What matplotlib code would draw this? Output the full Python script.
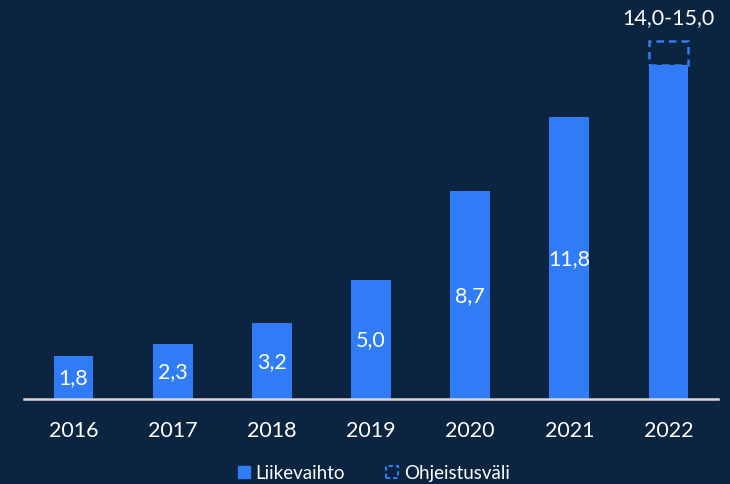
import matplotlib
matplotlib.use("Agg")
import matplotlib.pyplot as plt
from matplotlib.patches import Patch

years = ["2016", "2017", "2018", "2019", "2020", "2021", "2022"]
revenue = [1.8, 2.3, 3.2, 5.0, 8.7, 11.8, 14.0]
labels = ["1,8", "2,3", "3,2", "5,0", "8,7", "11,8", ""]
guidance_low = 14.0
guidance_high = 15.0
guidance_label = "14,0-15,0"

BG = "#0b2541"
BLUE = "#2f7cf6"
plt.rcParams['font.family'] = ['Lato', 'DejaVu Sans']

fig = plt.figure(figsize=(7.3, 4.85), dpi=100, facecolor=BG)
ax = fig.add_axes([24/730, 85/485, (718-24)/730, 400/485])
ax.set_facecolor(BG)
x = list(range(len(years)))
ax.bar(x, revenue, width=0.4, color=BLUE, zorder=2)
for xi, v, lab in zip(x, revenue, labels):
    if lab:
        ax.text(xi, v/2, lab, ha='center', va='center', color='white', fontsize=15.5)

ax.bar(x[-1], guidance_high-guidance_low, bottom=guidance_low, width=0.4,
       facecolor='none', edgecolor=BLUE, linestyle=(0, (3, 2)), linewidth=1.8, zorder=3)
ax.text(x[-1], 16.0, guidance_label, ha='center', va='center', color='white', fontsize=15.5)

ax.set_xlim(-0.5, 6.5)
ax.set_ylim(0, 16.75)
ax.set_xticks(x)
ax.set_xticklabels(years, color='white', fontsize=15.5)
ax.tick_params(axis='x', length=0, pad=15)
ax.set_yticks([])
for s in ['top', 'right', 'left']:
    ax.spines[s].set_visible(False)
ax.spines['bottom'].set_color('#d8d8d8')
ax.spines['bottom'].set_linewidth(1.8)

handles = [Patch(facecolor=BLUE, edgecolor=BLUE, label='Liikevaihto'),
           Patch(facecolor='none', edgecolor=BLUE, linestyle=(0, (2, 1.5)), linewidth=1.5, label='Ohjeistusväli')]
fig.legend(handles=handles, loc='center', bbox_to_anchor=(374/730, 1 - 474/485), ncol=2,
           frameon=False, fontsize=13.5, handlelength=0.6, handleheight=0.6,
           handletextpad=0.32, columnspacing=2.2, labelcolor='white',
           borderpad=0, borderaxespad=0)

fig.savefig("out.png", dpi=100, facecolor=BG)
